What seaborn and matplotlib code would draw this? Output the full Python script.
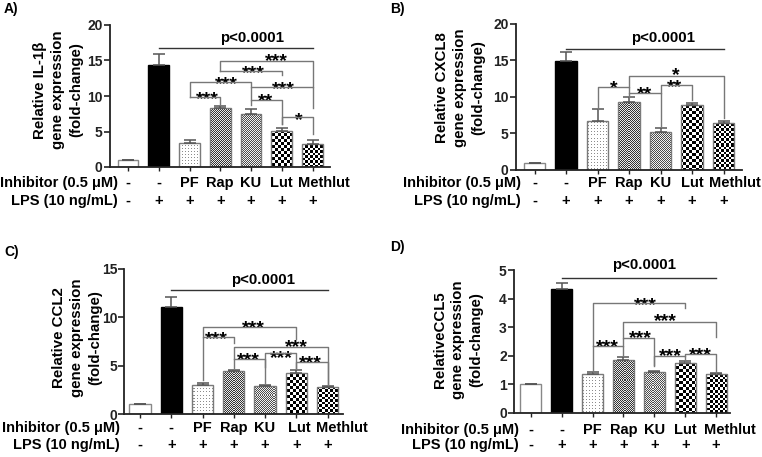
import numpy as np
import pandas as pd
import matplotlib
matplotlib.use("Agg")
import matplotlib.pyplot as plt
import matplotlib.transforms as mtrans
import seaborn as sns

# ---------------- data ----------------
conditions = ["Control", "LPS", "PF", "Rap", "KU", "Lut", "Methlut"]
inhibitor_row = ["-", "-", "PF", "Rap", "KU", "Lut", "Methlut"]
lps_row = ["-", "+", "+", "+", "+", "+", "+"]

il1b_mean = [1.0, 14.4, 3.45, 8.25, 7.4, 5.05, 3.2]
il1b_err = [0.0, 1.45, 0.4, 0.3, 0.8, 0.45, 0.65]
cxcl8_mean = [1.0, 14.9, 6.75, 9.25, 5.15, 8.85, 6.45]
cxcl8_err = [0.0, 1.2, 1.6, 0.8, 0.55, 0.3, 0.3]
ccl2_mean = [1.0, 11.1, 3.03, 4.4, 2.92, 4.23, 2.75]
ccl2_err = [0.0, 1.05, 0.15, 0.2, 0.1, 0.37, 0.1]
ccl5_mean = [1.0, 4.33, 1.37, 1.86, 1.44, 1.74, 1.37]
ccl5_err = [0.0, 0.2, 0.06, 0.09, 0.03, 0.09, 0.02]

ylabels = ["Relative IL-1\u03b2\ngene expression\n(fold-change)",
           "Relative CXCL8\ngene expression\n(fold-change)",
           "Relative CCL2\ngene expression\n(fold-change)",
           "RelativeCCL5\ngene expression\n(fold-change)"]
panel_letters = ["A)", "B)", "C)", "D)"]
row_titles = ["Inhibitor (0.5 \u03bcM)", "LPS (10 ng/mL)"]
overall_label = "p<0.0001"

# comparisons: (i, j, label)
comps_a = [(2, 3, "***"), (2, 4, "***"), (3, 5, "***"), (3, 6, "***"),
           (4, 5, "**"), (4, 6, "***"), (5, 6, "*")]
comps_b = [(2, 3, "*"), (3, 4, "**"), (4, 5, "**"), (3, 6, "*")]
comps_c = [(2, 5, "***"), (2, 3, "***"), (3, 6, "***"), (3, 4, "***"),
           (4, 5, "***"), (5, 6, "***")]
comps_d = [(2, 5, "***"), (3, 6, "***"), (3, 4, "***"), (2, 3, "***"),
           (4, 5, "***"), (5, 6, "***")]

# ---------------- layout (positions only) ----------------
W, H = 762, 457
FONT = "Liberation Sans"
plt.rcParams["font.family"] = [FONT, "DejaVu Sans"]
plt.rcParams["font.weight"] = "bold"

# bracket geometry per comparison: (level, left_end, right_end, star_x, star_y)
geo_a = [(9.88, 9.88, 8.7, 2.58, 10.45), (12.0, 9.88, 11.2, 3.21, 12.47),
         (13.55, 13.55, 12.9, 4.08, 14.1), (14.96, 13.55, 11.2, 4.83, 15.76),
         (9.4, 8.7, 6.1, 4.48, 10.1), (11.2, 9.4, 8.3, 5.07, 11.86),
         (7.06, 6.1, 4.7, 5.57, 7.53)]
geo_b = [(11.32, 8.4, 10.5, 2.53, 12.1), (10.5, 10.05, 6.03, 3.49, 11.2),
         (11.64, 10.5, 9.6, 4.44, 12.2), (12.88, 11.32, 7.08, 4.49, 13.85)]
geo_c = [(8.97, 8.0, 7.8, 3.62, 9.55), (8.0, 3.5, 7.3, 2.45, 8.4),
         (6.97, 4.75, 3.0, 5.01, 7.6), (5.65, 5.65, 4.9, 3.46, 6.2),
         (6.28, 3.17, 4.76, 4.53, 6.45), (5.4, 4.76, 3.0, 5.46, 5.93)]
geo_d = [(3.83, 1.45, 3.67, 3.7, 4.0), (3.19, 2.61, 2.67, 4.35, 3.43),
         (2.61, 2.34, 1.68, 3.54, 2.84), (2.34, 2.34, 2.03, 2.48, 2.52),
         (2.0, 1.64, 1.8, 4.51, 2.2), (2.06, 2.0, 1.39, 5.5, 2.23)]

# horizontal nudge (in bar units) of the inhibitor-row names
name_shift_a = [0, 0, 0, 0, 0, 0, 0.38]
name_shift_b = [0, 0, 0, 0, 0, 0, 0.37]
name_shift_c = [0, 0, 0, 0, 0, 0.1, 0.46]
name_shift_d = [0, 0, 0, 0, 0, 0, 0.44]

panels = [
    dict(mean=il1b_mean, err=il1b_err, comps=comps_a, geo=geo_a, ylab=ylabels[0],
         letter=panel_letters[0], letter_xy=(4, 9), shift=name_shift_a,
         bar0=128, sp=30.75, xlim=(-0.6, 6.57), top=25, bottom=167,
         ylim=(0, 20), yticks=[0, 5, 10, 15, 20],
         ylab_xy=(58, 90), row_right=118, rows_y=(183, 201),
         pline=(1, 6, 16.7), ptext=(4.02, 18.2)),
    dict(mean=cxcl8_mean, err=cxcl8_err, comps=comps_b, geo=geo_b, ylab=ylabels[1],
         letter=panel_letters[1], letter_xy=(390, 9), shift=name_shift_b,
         bar0=534.5, sp=31.5, xlim=(-0.6, 6.6), top=24, bottom=170,
         ylim=(0, 20), yticks=[0, 5, 10, 15, 20],
         ylab_xy=(460, 88), row_right=521, rows_y=(183, 201),
         pline=(1, 6, 16.58), ptext=(4.07, 18.1)),
    dict(mean=ccl2_mean, err=ccl2_err, comps=comps_c, geo=geo_c, ylab=ylabels[2],
         letter=panel_letters[2], letter_xy=(4, 252), shift=name_shift_c,
         bar0=140, sp=31.25, xlim=(-0.5, 6.5), top=269, bottom=414,
         ylim=(0, 15), yticks=[0, 5, 10, 15],
         ylab_xy=(77, 338), row_right=120, rows_y=(428, 445),
         pline=(1, 6, 12.83), ptext=(3.94, 13.86)),
    dict(mean=ccl5_mean, err=ccl5_err, comps=comps_d, geo=geo_d, ylab=ylabels[3],
         letter=panel_letters[3], letter_xy=(390, 247), shift=name_shift_d,
         bar0=530.7, sp=30.9, xlim=(-0.55, 6.45), top=270, bottom=413,
         ylim=(0, 5), yticks=[0, 1, 2, 3, 4, 5],
         ylab_xy=(458, 340), row_right=519, rows_y=(430, 445),
         pline=(1, 6, 4.72), ptext=(3.67, 5.19)),
]

EDGE = "#7a7a7a"
BRK = "#777777"


def pattern(kind, h, w):
    yy, xx = np.mgrid[0:h, 0:w]
    img = np.ones((h, w, 3))
    if kind == "dots":
        m = (yy % 3 == 0) & (xx % 3 == 0)
        img[m] = 0.55
    elif kind == "fine":
        m = ((yy + xx) % 2 == 0)
        img[m] = 0.2
        img[~m] = 0.92
    elif kind == "fine2":
        m = ((yy + xx) % 2 == 0)
        img[m] = 0.3
        img[~m] = 0.95
    elif kind == "check3":
        m = ((yy // 3 + xx // 3) % 2 == 0)
        img[m] = 0.0
    elif kind == "check2":
        m = ((yy * 2 // 5 + xx * 2 // 5) % 2 == 0)
        img[m] = 0.0
    return img


kinds = [None, None, "dots", "fine", "fine2", "check3", "check2"]

fig = plt.figure(figsize=(W / 100, H / 100), dpi=100)

for p in panels:
    left = p["bar0"] + p["xlim"][0] * p["sp"]
    right = p["bar0"] + p["xlim"][1] * p["sp"]
    ax = fig.add_axes([left / W, 1 - p["bottom"] / H, (right - left) / W,
                       (p["bottom"] - p["top"]) / H])
    df = pd.DataFrame({"condition": conditions, "value": p["mean"]})
    sns.barplot(data=df, x="condition", y="value", order=conditions, ax=ax,
                width=0.68, errorbar=None, color="white", saturation=1)
    xs = np.arange(len(conditions))
    ax.errorbar(xs, p["mean"], yerr=[np.zeros(len(xs)), p["err"]], fmt="none",
                ecolor="#555555", elinewidth=1.1, capsize=4.5, capthick=1.1, zorder=3)
    pw = int(round(right - left))
    ph = int(round(p["bottom"] - p["top"]))
    for k, patch in enumerate(ax.patches):
        patch.set_zorder(2)
        patch.set_linewidth(1.0)
        if k == 0:
            patch.set_facecolor("white")
            patch.set_edgecolor("#888888")
        elif k == 1:
            patch.set_facecolor("black")
            patch.set_edgecolor("black")
        else:
            patch.set_facecolor("none")
            patch.set_edgecolor(EDGE)
            im = ax.imshow(pattern(kinds[k], ph, pw), extent=(0, 1, 0, 1),
                           transform=ax.transAxes, interpolation="nearest",
                           aspect="auto", zorder=1.5)
            im.set_clip_path(patch)
    ax.set_xlim(*p["xlim"])
    ax.set_ylim(*p["ylim"])
    ax.set_yticks(p["yticks"])
    ax.set_yticklabels([str(t) for t in p["yticks"]], fontsize=10, fontweight="bold")
    ax.set_xticks(xs)
    ax.set_xticklabels([])
    ax.set_xlabel("")
    ax.set_ylabel("")
    for s in ["top", "right"]:
        ax.spines[s].set_visible(False)
    for s in ["left", "bottom"]:
        ax.spines[s].set_linewidth(1.3)
        ax.spines[s].set_color("#222222")
    ax.tick_params(axis="y", length=4, width=1.2, pad=1, colors="#222222")
    ax.tick_params(axis="x", length=3, width=1.0, colors="#222222")
    ax.set_facecolor("none")
    ax.patch.set_visible(False)

    # overall p line
    i, j, lv = p["pline"]
    ax.plot([i, j], [lv, lv], color="#333333", lw=1.0, zorder=4, clip_on=False)
    ax.text(p["ptext"][0], p["ptext"][1], overall_label, ha="center", va="center",
            fontsize=10.8, fontweight="bold", clip_on=False)

    # pairwise brackets
    for (i, j, lab), (lv, le, re, sx, sy) in zip(p["comps"], p["geo"]):
        ax.plot([i, i, j, j], [le, lv, lv, re], color=BRK, lw=1.0, zorder=4,
                clip_on=False)
        fs = 14
        ax.annotate(lab, xy=(sx, sy), xytext=(0, -0.57 * fs), textcoords="offset points",
                    ha="center", va="baseline", fontsize=fs, fontweight="bold",
                    annotation_clip=False)

    # condition rows
    tr = mtrans.blended_transform_factory(ax.transData, fig.transFigure)
    for r, (row, ypx) in enumerate(zip([inhibitor_row, lps_row], p["rows_y"])):
        fig.text(p["row_right"] / W, 1 - ypx / H, row_titles[r], ha="right",
                 va="center", fontsize=10.5, fontweight="bold")
        for k, t in enumerate(row):
            dx = p["shift"][k] if r == 0 else 0
            ax.text(k + dx, 1 - ypx / H, t, transform=tr, ha="center", va="center",
                    fontsize=10.5, fontweight="bold")

    # y label and panel letter
    fig.text(p["ylab_xy"][0] / W, 1 - p["ylab_xy"][1] / H, p["ylab"], rotation=90,
             ha="center", va="center", multialignment="center", fontsize=10.8,
             fontweight="bold", linespacing=1.38)
    fig.text(p["letter_xy"][0] / W, 1 - p["letter_xy"][1] / H, p["letter"],
             ha="left", va="center", fontsize=10, fontweight="bold")

fig.savefig("out.png", dpi=100, facecolor="white")
